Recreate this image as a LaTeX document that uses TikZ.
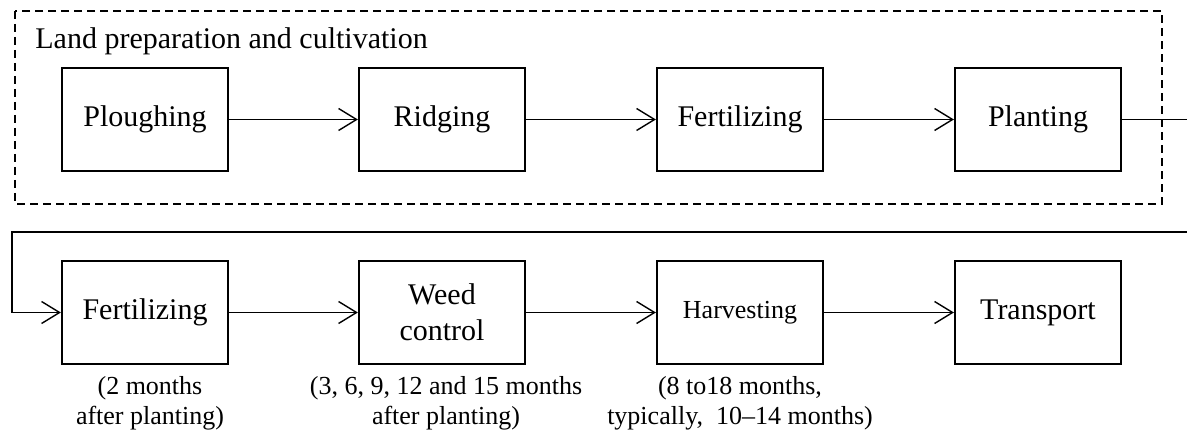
\documentclass[tikz,border=0pt]{standalone}
\usepackage{fontspec}
\setmainfont{Liberation Serif}
\usetikzlibrary{arrows.meta,positioning}

\begin{document}
\begin{tikzpicture}[x=0.5pt, y=-0.5pt,
    stage/.style={draw, line width=1.1pt, minimum width=83pt, minimum height=51.5pt,
        inner sep=2pt, align=center, font=\fontsize{15}{18}\selectfont},
    note/.style={align=center, inner sep=0pt, font=\fontsize{13}{15}\selectfont},
    flow/.style={line width=0.7pt, -{Straight Barb[length=9pt, width=11pt]}}]
    \useasboundingbox (0,0) rectangle (1187,432);
    \clip (0,0) rectangle (1187,432);

    % Land preparation group
    \draw[line width=1pt, dash pattern=on 4pt off 2.5pt] (15,11) rectangle (1162,204);
    \node[anchor=base west, inner sep=0pt, font=\fontsize{15}{18}\selectfont] (group) at (35,49)
        {Land preparation and cultivation};

    % first row
    \node[stage] (plough) at (145,119.5) {Ploughing};
    \node[stage] (ridge) at (442,119.5) {Ridging};
    \node[stage] (fertA) at (740,119.5) {Fertilizing};
    \node[stage] (plant) at (1038,119.5) {Planting};

    % second row
    \node[stage] (fertB) at (145,312.5) {Fertilizing};
    \node[stage] (weed) at (442,312.5) {Weed\\control};
    \node[stage, font=\fontsize{13}{15}\selectfont] (harvest) at (740,312.5) {Harvesting};
    \node[stage] (transport) at (1038,312.5) {Transport};

    % notes under the second row
    \node[note, below=5.5pt of fertB, xshift=2.5pt] (fertBnote) {(2 months\\after planting)};
    \node[note, below=5.5pt of weed, xshift=2pt] (weednote) {(3, 6, 9, 12 and 15 months\\after planting)};
    \node[note, below=5.5pt of harvest] (harvestnote) {(8 to18 months,\\typically,\ \ 10--14 months)};

    % arrows
    \foreach \a/\b in {plough/ridge, ridge/fertA, fertA/plant, fertB/weed, weed/harvest, harvest/transport}
        \draw[flow] (\a) -- (\b);

    % wrap round to the second row
    \coordinate (wrapR) at (1200,232);
    \coordinate (wrapL) at (12,232);
    \draw[flow] (plant.east) -| (wrapR) -- (wrapL) |- (fertB.west);
\end{tikzpicture}
\end{document}
